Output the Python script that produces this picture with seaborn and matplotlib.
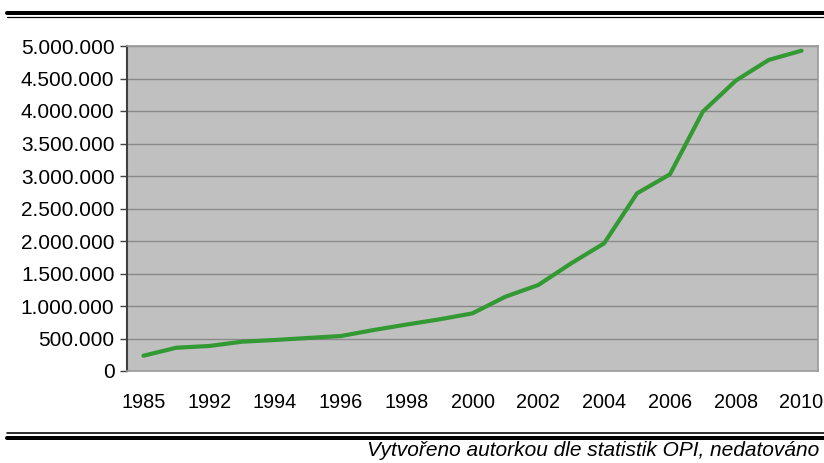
import numpy as np
import pandas as pd
import matplotlib
matplotlib.use("Agg")
import matplotlib.pyplot as plt
import seaborn as sns
from matplotlib.ticker import FuncFormatter

# ---------------- DATA ----------------
years = ["1985", "1990", "1992", "1993", "1994", "1995", "1996", "1997", "1998", "1999",
         "2000", "2001", "2002", "2003", "2004", "2005", "2006", "2007", "2008", "2009", "2010"]
values = [235000, 358000, 385000, 451000, 477000, 508000, 538000, 631000, 715000, 795000,
          887000, 1143000, 1323000, 1657000, 1964000, 2733000, 3026000, 3990000, 4467000,
          4785000, 4928000]
y_ticks = [0, 500000, 1000000, 1500000, 2000000, 2500000, 3000000, 3500000, 4000000,
           4500000, 5000000]
caption = "Vytvořeno autorkou dle statistik OPI, nedatováno"

df = pd.DataFrame({"pos": np.arange(len(years)), "year": years, "value": values})

# ---------------- STYLE ----------------
sns.set_style("white")
plt.rcParams["font.family"] = ["Liberation Sans", "DejaVu Sans"]

fig = plt.figure(figsize=(8.24, 4.63), dpi=100)
ax = fig.add_axes([127 / 824, 1 - 371 / 463, (818 - 127) / 824, (371 - 46) / 463])
ax.set_facecolor("#c0c0c0")

sns.lineplot(data=df, x="pos", y="value", ax=ax, color="#339933", linewidth=3,
             solid_capstyle="round", solid_joinstyle="round", zorder=3)

ax.set_xlim(-0.5, len(years) - 0.5)
ax.set_ylim(0, 5000000)
ax.set_yticks(y_ticks)
ax.yaxis.set_major_formatter(FuncFormatter(lambda v, p: f"{int(v):,}".replace(",", ".")))
ax.set_xticks(df["pos"][::2])
ax.set_xticklabels(df["year"][::2])
ax.grid(axis="y", color="#8a8a8a", linewidth=1)
ax.set_axisbelow(True)
ax.set_xlabel("")
ax.set_ylabel("")

ax.tick_params(axis="y", length=5, width=1, color="#404040", labelsize=15,
               labelcolor="black", pad=4, left=True)
ax.tick_params(axis="x", length=0, labelsize=14.3, labelcolor="black", pad=16)

for side in ["top", "right", "bottom"]:
    ax.spines[side].set_color("#9a9a9a")
    ax.spines[side].set_linewidth(1.2)
ax.spines["left"].set_color("#404040")
ax.spines["left"].set_linewidth(1.5)

# ---------------- RULES & CAPTION ----------------
for y, lw in [(13.2, 4), (16.8, 1.2), (433, 1.6), (438, 4)]:
    fig.add_artist(plt.Line2D([7 / 824, 1], [1 - y / 463, 1 - y / 463],
                              transform=fig.transFigure, color="black", linewidth=lw * 0.72))

fig.text(819 / 824, 1 - 451 / 463, caption, ha="right", va="center", fontsize=15,
         style="italic", color="black")

plt.savefig("out.png", dpi=100)
